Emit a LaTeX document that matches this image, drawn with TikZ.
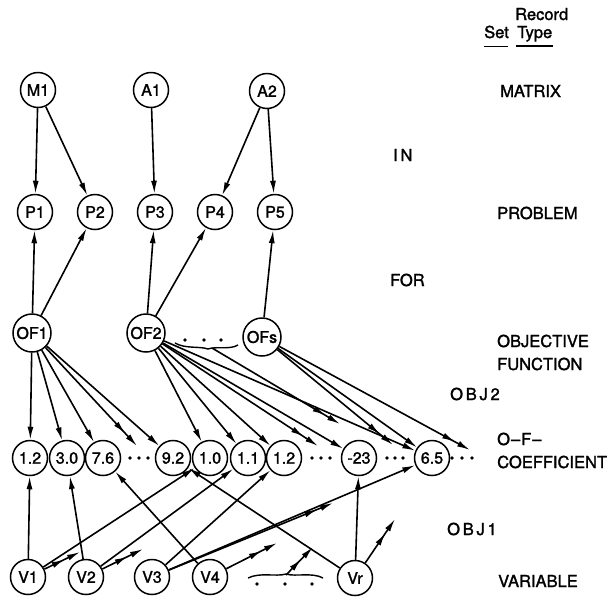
\documentclass[tikz,border=0pt]{standalone}
\usepackage{fontspec}
\setmainfont{TeX Gyre Heros}[FakeBold=1.6]
\usetikzlibrary{arrows.meta,decorations.markings}
\begin{document}
\begin{tikzpicture}[x=1pt,y=-1pt,
  rec/.style={circle,draw,line width=1.5pt,minimum size=35pt,inner sep=0pt,font=\fontsize{16}{16}\selectfont},
  ofrec/.style={rec,minimum size=38pt},
  lab/.style={font=\fontsize{16.5}{18}\selectfont,inner sep=0pt,anchor=base west},
  con/.style={line width=1.6pt,-{Latex[length=13pt,width=6pt]}},
  many/.style={con,postaction={decorate},decoration={markings,mark=at position -17pt with {\arrow{Latex[length=13pt,width=6pt]}}}},
  dot/.style={circle,fill,inner sep=0pt,minimum size=3.8pt},
  wig/.style={line width=1.4pt}
]
\useasboundingbox (0,0) rectangle (607,598);
% header
\node[lab] (hrec) at (515,20) {Record};
\node[lab] (htype) at (517,38) {Type};
\node[lab] (hset) at (484,38) {Set};
\draw[line width=1.5pt] (516,46) -- (553,46);
\draw[line width=0.8pt] (484,46) -- (508,46);
% labels
\node[lab] (lmat) at (500,97) {MATRIX};
\node[lab] (lin) at (393,161) {I\,N};
\node[lab] (lprob) at (497,219) {PROBLEM};
\node[lab] (lfor) at (390,286) {FOR};
\node[lab] (lobj) at (497,347) {OBJECTIVE};
\node[lab] (lfun) at (497,370) {FUNCTION};
\node[lab] (lobj2) at (450,400) {O\,B\,J\,2};
\node[lab] (lof) at (497,445) {O\kern1pt--\kern1pt F\kern1pt--};
\node[lab] (lcoef) at (497,468) {COEFFICIENT};
\node[lab] (lobj1) at (447,535) {O\,B\,J\,1};
\node[lab] (lvar) at (498,587) {VARIABLE};
% record nodes
\node[rec] (M1) at (38,90) {M1};
\node[rec] (A1) at (151,90) {A1};
\node[rec] (A2) at (267,91) {A2};
\node[rec] (P1) at (35,212) {P1};
\node[rec] (P2) at (95,212) {P2};
\node[rec] (P3) at (155,212) {P3};
\node[rec] (P4) at (215,212) {P4};
\node[rec] (P5) at (275,212) {P5};
\node[ofrec] (OF1) at (32,333) {OF1};
\node[ofrec] (OF2) at (146,333) {OF2};
\node[ofrec] (OFs) at (262,337) {OFs};
\node[rec] (c1) at (30,458) {1.2};
\node[rec] (c2) at (67,458) {3.0};
\node[rec] (c3) at (103,458) {7.6};
\node[rec] (c4) at (173,458) {9.2};
\node[rec] (c5) at (210,458) {1.0};
\node[rec] (c6) at (248,458) {1.1};
\node[rec] (c7) at (284,458) {1.2};
\node[rec] (c8) at (359,458) {-23};
\node[rec] (c9) at (432,458) {6.5};
\node[rec] (V1) at (28,577) {V1};
\node[rec] (V2) at (86,577) {V2};
\node[rec] (V3) at (152,577) {V3};
\node[rec] (V4) at (210,577) {V4};
\node[rec] (Vr) at (355,578) {Vr};
% dots in coefficient row
\foreach \x in {130,139,148, 312,321,330, 387,395,403, 452,462,472}
  \node[dot] at (\x,458) {};
% wiggles
\draw[wig] (175,343) .. controls (185,349) and (200,346) .. (208,349)
  .. controls (216,346) and (230,350) .. (238,345);
\foreach \x in {185,204,221} \node[dot] at (\x,340) {};
\coordinate (w1) at (212,348);
\draw[wig] (248,578) .. controls (260,572) and (276,577) .. (286,574)
  .. controls (296,577) and (312,572) .. (323,578);
\foreach \x in {257,285,312} \node[dot] at (\x,584) {};
\coordinate (w2) at (286,575);
% free ends
\coordinate (f1) at (137,446);
\coordinate (f2) at (318,446);
\coordinate (f3) at (340,424);
\coordinate (f4) at (393,445);
\coordinate (f5) at (470,450);
\coordinate (g1) at (80,552);
\coordinate (g2) at (143,549);
\coordinate (g3) at (333,503);
\coordinate (g4) at (277,543);
\coordinate (g5) at (313,547);
\coordinate (g6) at (395,519);
% MATRIX-IN-PROBLEM
\draw[con] (M1) -- (P1);
\draw[con] (M1) -- (P2);
\draw[con] (A1) -- (P3);
\draw[con] (A2) -- (P4);
\draw[con] (A2) -- (P5);
% FOR
\draw[con] (OF1) -- (P1);
\draw[con] (OF1) -- (P2);
\draw[con] (OF2) -- (P3);
\draw[con] (OF2) -- (P4);
\draw[con] (OFs) -- (P5);
% OBJ2
\draw[con] (OF1) -- (c1);
\draw[con] (OF1) -- (c2);
\draw[con] (OF1) -- (c3);
\draw[many] (OF1) -- (f1);
\draw[con] (OF1) -- (c4);
\draw[con] (OF2) -- (c5);
\draw[con] (OF2) -- (c6);
\draw[con] (OF2) -- (c7);
\draw[many] (OF2) -- (f2);
\draw[con] (OF2) -- (c8);
\draw[con] (OF2) -- (c9);
\draw[many] (w1) -- (f3);
\draw[many] (OFs) -- (f4);
\draw[con] (OFs) -- (c9);
\draw[many] (OFs) -- (f5);
% OBJ1
\draw[con] (V1) -- (c1);
\draw[con] (V1) -- (c5);
\draw[many] (V1) -- (g1);
\draw[con] (V2) -- (c2);
\draw[con] (V2) -- (c6);
\draw[many] (V2) -- (g2);
\draw[con] (V3) -- (c7);
\draw[con] (V3) -- (c9);
\draw[many] (V3) -- (g3);
\draw[con] (V4) -- (c3);
\draw[many] (V4) -- (g4);
\draw[many] (w2) -- (g5);
\draw[con] (Vr) -- (c8);
\draw[con] (Vr) -- (c4);
\draw[many] (Vr) -- (g6);
\end{tikzpicture}
\end{document}
